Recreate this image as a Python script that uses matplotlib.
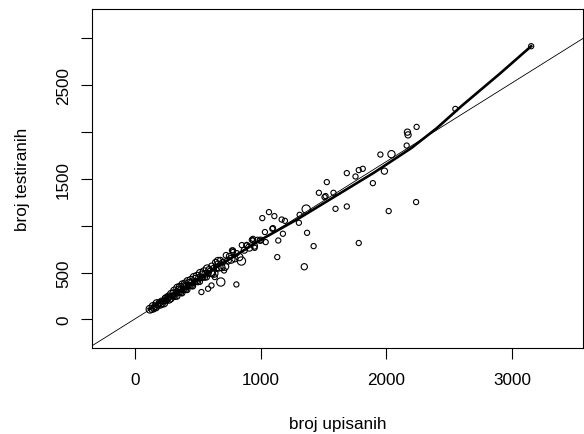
import matplotlib
matplotlib.use("Agg")
from matplotlib import pyplot as plt
import numpy as np

plt.rcParams["font.family"] = ["Liberation Sans", "DejaVu Sans"]

# enrolled (x) vs tested (y)
band_x = [120, 135, 145, 150, 160, 170, 175, 185, 195, 200, 210, 215, 225, 230, 240,
          245, 250, 260, 265, 270, 280, 285, 290, 300, 305, 310, 315, 320, 330, 335,
          340, 345, 350, 355, 360, 365, 370, 375, 380, 385, 390, 395, 400, 405, 410,
          415, 420, 425, 430, 440, 445, 450, 455, 460, 470, 475, 480, 490, 495, 500,
          510, 515, 520, 530, 535, 540, 550, 555, 560, 570, 575, 585, 590, 600, 610,
          615, 625, 630, 640, 650, 660, 670, 680, 690, 700, 715, 725, 740, 750, 765,
          780, 795, 810, 830, 850, 870, 890, 910, 930, 950, 975, 1000]
band_y = [109, 104, 139, 111, 137, 123, 169, 151, 175, 161, 196, 167, 194, 175, 226,
          203, 223, 213, 244, 215, 242, 223, 269, 251, 280, 250, 304, 243, 287, 246,
          336, 285, 320, 289, 343, 283, 322, 281, 371, 320, 354, 324, 378, 317, 357,
          316, 405, 355, 389, 363, 417, 357, 396, 355, 449, 398, 433, 406, 461, 400,
          444, 403, 492, 446, 480, 450, 509, 448, 487, 451, 540, 494, 528, 502, 571,
          491, 546, 491, 610, 548, 595, 558, 632, 556, 611, 565, 684, 626, 674, 641,
          719, 648, 707, 665, 793, 739, 795, 767, 849, 783, 850, 845]
band_cex = [1.5, 1.1, 1.5, 1.1, 1.3, 1.1, 1.5, 1.1, 1.3, 1.5, 1.1, 1.3, 1.1, 1.5, 1.1,
            1.3, 1.5, 1.1, 1.3, 1.5, 1.1, 1.3, 1.5, 1.1, 1.3, 1.1, 1.5, 1.1, 1.3, 1.1,
            1.5, 1.1, 1.3, 1.1, 1.5, 1.1, 1.3, 1.1, 1.5, 1.1, 1.3, 1.1, 1.5, 1.1, 1.3,
            1.1, 1.5, 1.1, 1.3, 1.1, 1.5, 1.1, 1.3, 1.1, 1.5, 1.1, 1.3, 1.1, 1.5, 1.1,
            1.3, 1.1, 1.5, 1.1, 1.3, 1.1, 1.5, 1.1, 1.3, 1.1, 1.5, 1.1, 1.3, 1.6, 1.1,
            1.3, 1.1, 1.5, 1.1, 1.3, 1.1, 1.5, 1.1, 1.3, 1.1, 1.5, 1.1, 1.3, 1.1, 1.5,
            1.0, 1.2, 1.0, 1.4, 1.0, 1.2, 1.0, 1.4, 1.0, 1.2, 1.0, 1.2]

spread_x = [529, 582, 609, 683, 807, 709, 635, 847, 772, 939, 952, 992, 661, 780,
            886, 939, 1013, 1034, 1040, 1066, 1093, 1098, 1109, 1140, 1132, 1167, 1177,
            1193, 1304, 1310, 1347, 1362, 1369, 1421, 1463, 1508, 1516, 1526, 1579,
            1595, 1685, 1685, 1754, 1780, 1780, 1812, 1892, 1952, 1984, 2018, 2040,
            2161, 2167, 2172, 2236, 2240, 2548, 3151]
spread_y = [292, 327, 362, 399, 373, 522, 452, 623, 736, 842, 764, 842, 623, 736,
            789, 860, 1081, 932, 825, 1145, 967, 974, 1102, 842, 665, 1066, 914,
            1052, 1031, 1116, 562, 1177, 924, 782, 1351, 1305, 1316, 1465, 1351,
            1180, 1205, 1561, 1525, 1593, 815, 1607, 1454, 1759, 1582, 1156, 1763,
            1855, 1998, 1969, 1252, 2054, 2246, 2915]
spread_cex = [1.0, 1.0, 1.0, 1.6, 1.0, 1.0, 1.0, 1.6, 1.0, 1.0, 1.0, 1.0, 1.4, 1.0,
              1.0, 1.0, 1.0, 1.0, 1.0, 1.0, 1.0, 1.0, 1.0, 1.0, 1.0, 1.0, 1.0,
              1.0, 1.0, 1.0, 1.2, 1.6, 1.0, 1.0, 1.0, 1.0, 1.0, 1.0, 1.0,
              1.0, 1.0, 1.0, 1.0, 1.0, 1.0, 1.0, 1.0, 1.0, 1.2, 1.0, 1.4,
              1.0, 1.2, 1.2, 1.0, 1.0, 1.0, 1.0]

# straight fit and smoothed curve
fit_intercept = 5
fit_slope = 0.84
smooth_x = [110, 400, 700, 1000, 1300, 1600, 1900, 2200, 2400, 2600, 2900, 3151]
smooth_y = [112, 350, 600, 848, 1075, 1320, 1565, 1830, 2040, 2280, 2620, 2915]

x_ticks = [0, 1000, 2000, 3000]
y_ticks = [0, 500, 1000, 1500, 2000, 2500, 3000]
y_tick_labels = ["0", "500", "", "1500", "", "2500", ""]

fig = plt.figure(figsize=(5.84, 4.35), dpi=100)
ax = fig.add_axes([92 / 584, 1 - 349 / 435, 491 / 584, 339 / 435])

xs = np.array(band_x + spread_x)
ys = np.array(band_y + spread_y)
cex = np.array(band_cex + spread_cex)
ax.scatter(xs, ys, s=14 * cex ** 2, facecolors="none", edgecolors="black",
           linewidths=0.8, zorder=3)

line_x = np.array([-600, 4000])
ax.plot(line_x, fit_intercept + fit_slope * line_x, color="black", lw=0.6, zorder=2)
ax.plot(smooth_x, smooth_y, color="black", lw=1.9, zorder=4)

ax.set_xlim(-341, 3563)
ax.set_ylim(-305, 3312)
ax.set_xticks(x_ticks)
ax.set_yticks(y_ticks)
ax.set_yticklabels(y_tick_labels, rotation=90, va="center")
ax.tick_params(length=8, width=0.8, labelsize=12.3, pad=9)
ax.tick_params(axis="y", pad=7)
for spine in ax.spines.values():
    spine.set_linewidth(0.8)

ax.set_xlabel("broj upisanih", fontsize=12.3, labelpad=21)
ax.set_ylabel("broj testiranih", fontsize=12.3, labelpad=19)

plt.savefig("out.png", dpi=100)
